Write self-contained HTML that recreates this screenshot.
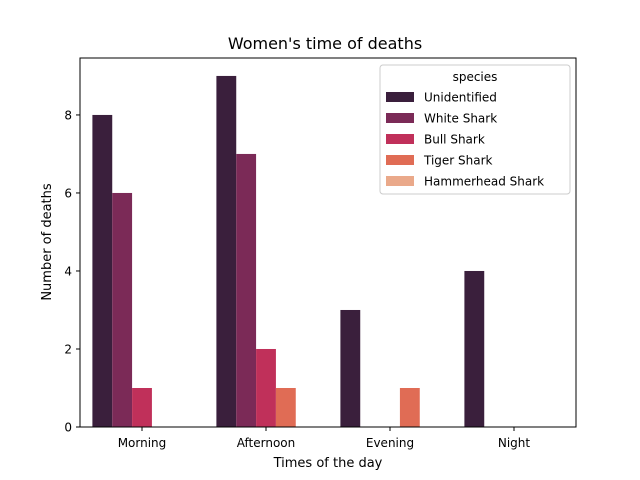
<!DOCTYPE html>
<html><head><meta charset="utf-8"><style>body{margin:0;background:#fff}svg{display:block;font-family:"DejaVu Sans","Liberation Sans",sans-serif}</style></head>
<body>
<svg id="chart" width="640" height="480" xmlns="http://www.w3.org/2000/svg">
<rect width="640" height="480" fill="#fff"/>
<text x="325" y="49" font-size="16" text-anchor="middle">Women's time of deaths</text>
<g id="bars"></g>
<g id="axes"></g>
<rect x="80" y="58" width="496" height="369" fill="none" stroke="#000" stroke-width="1"/>
<text x="328" y="467" font-size="13" text-anchor="middle">Times of the day</text>
<text transform="translate(51,242) rotate(-90)" font-size="13" text-anchor="middle">Number of deaths</text>
<g id="legend"></g>
</svg>
<script>
const categories = ["Morning","Afternoon","Evening","Night"];
const species = ["Unidentified","White Shark","Bull Shark","Tiger Shark","Hammerhead Shark"];
const unidentified = [8,9,3,4];
const whiteShark = [6,7,0,0];
const bullShark = [1,2,0,0];
const tigerShark = [0,1,1,0];
const hammerheadShark = [0,0,0,0];
const yTicks = [0,2,4,6,8];
const colors = ["#3a1f3c","#7b2a57","#c0305a","#e06c55","#eaa98a"];
const series = [unidentified, whiteShark, bullShark, tigerShark, hammerheadShark];
const NS = "http://www.w3.org/2000/svg";
const x0 = 80, x1 = 576, yBase = 427, yTop = 58;
const xScale = v => x0 + (v + 0.5) / categories.length * (x1 - x0);
const yScale = v => yBase - v / 9.46 * (yBase - yTop);
function mk(tag, attrs, parent){const e=document.createElementNS(NS,tag);for(const k in attrs)e.setAttribute(k,attrs[k]);parent.appendChild(e);return e;}
const bars = document.getElementById("bars");
const unit = xScale(1) - xScale(0);
const bw = unit * 0.8 / species.length;
series.forEach((vals, s) => {
  vals.forEach((v, i) => {
    const left = xScale(i) - unit * 0.4 + s * bw;
    const r = mk("rect", {x:left, y:yScale(v), width:bw, height:yBase - yScale(v), fill:colors[s]}, bars);
    
    
  });
});
const axes = document.getElementById("axes");
categories.forEach((c, i) => {
  const x = xScale(i);
  const t = mk("line", {x1:x, x2:x, y1:yBase, y2:yBase+4, stroke:"#000"}, axes);
  
  
  const l = mk("text", {x:x, y:yBase+20, "font-size":12, "text-anchor":"middle"}, axes);
  l.textContent = c;
  
  
});
yTicks.forEach(v => {
  const y = yScale(v);
  const t = mk("line", {x1:x0-4, x2:x0, y1:y, y2:y, stroke:"#000"}, axes);
  
  
  const l = mk("text", {x:x0-8, y:y+4.5, "font-size":12, "text-anchor":"end"}, axes);
  l.textContent = v;
  
  
});
const lg = document.getElementById("legend");
const box = mk("rect", {x:380, y:65, width:190, height:129, rx:3, fill:"#fff", "fill-opacity":0.8, stroke:"#ccc"}, lg);


const lt = mk("text", {x:475, y:81, "font-size":12, "text-anchor":"middle"}, lg);
lt.textContent = "species";


species.forEach((s, i) => {
  const y = 97 + i * 21;
  const p = mk("rect", {x:386, y:y-5, width:28, height:10, fill:colors[i]}, lg);
  
  
  const t = mk("text", {x:424, y:y+4.5, "font-size":12}, lg);
  t.textContent = s;
  
  
});
</script>
</body></html>
